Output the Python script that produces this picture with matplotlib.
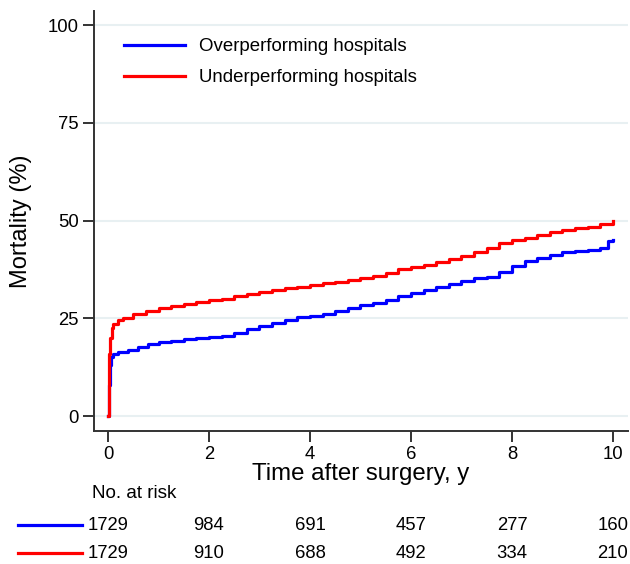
import matplotlib
matplotlib.use("Agg")
import matplotlib.pyplot as plt
from matplotlib.lines import Line2D
from matplotlib.transforms import blended_transform_factory

plt.rcParams['font.family'] = ['Liberation Sans', 'DejaVu Sans']

# Cumulative mortality (%) over years after surgery
t_over = [0, 0.01, 0.03, 0.06, 0.1, 0.2, 0.4, 0.6, 0.8, 1.0, 1.25, 1.5, 1.75, 2.0, 2.25,
          2.5, 2.75, 3.0, 3.25, 3.5, 3.75, 4.0, 4.25, 4.5, 4.75, 5.0, 5.25, 5.5, 5.75,
          6.0, 6.25, 6.5, 6.75, 7.0, 7.25, 7.5, 7.75, 8.0, 8.25, 8.5, 8.75, 9.0, 9.25,
          9.5, 9.75, 9.9, 10.0]
m_over = [0, 8, 13, 15, 15.8, 16.3, 17.0, 17.8, 18.5, 18.9, 19.3, 19.6, 19.9, 20.3, 20.6,
          21.3, 22.2, 23.0, 23.8, 24.6, 25.3, 25.7, 26.2, 27.0, 27.6, 28.3, 28.9, 29.8, 30.8,
          31.5, 32.3, 33.0, 33.8, 34.5, 35.2, 35.6, 36.8, 38.5, 39.6, 40.4, 41.3, 41.9, 42.2,
          42.4, 43.0, 44.8, 45.0]

t_under = [0, 0.01, 0.02, 0.04, 0.07, 0.1, 0.2, 0.3, 0.5, 0.75, 1.0, 1.25, 1.5, 1.75, 2.0,
           2.25, 2.5, 2.75, 3.0, 3.25, 3.5, 3.75, 4.0, 4.25, 4.5, 4.75, 5.0, 5.25, 5.5, 5.75,
           6.0, 6.25, 6.5, 6.75, 7.0, 7.25, 7.5, 7.75, 8.0, 8.25, 8.5, 8.75, 9.0, 9.25, 9.5,
           9.75, 10.0]
m_under = [0, 10, 16, 20, 22.5, 23.6, 24.6, 25.2, 26.0, 26.8, 27.6, 28.2, 28.7, 29.2, 29.6,
           30.0, 30.6, 31.2, 31.8, 32.3, 32.8, 33.1, 33.6, 34.0, 34.4, 34.8, 35.3, 35.9, 36.6, 37.6,
           38.2, 38.7, 39.3, 40.2, 41.0, 42.0, 43.0, 44.2, 45.0, 45.6, 46.3, 47.1, 47.7, 48.0, 48.4,
           49.2, 49.9]

risk_times = [0, 2, 4, 6, 8, 10]
risk_over = [1729, 984, 691, 457, 277, 160]
risk_under = [1729, 910, 688, 492, 334, 210]

labels = ["Overperforming hospitals", "Underperforming hospitals"]
colors = ["#0000ff", "#ff0000"]

fig = plt.figure(figsize=(6.3, 5.64), dpi=100)
ax = fig.add_axes([0.149, 0.2358, 0.848, 0.7447])

ax.plot(t_over, m_over, drawstyle="steps-post", color=colors[0], lw=2.3, label=labels[0])
ax.plot(t_under, m_under, drawstyle="steps-post", color=colors[1], lw=2.3, label=labels[1])

ax.set_xlim(-0.28, 10.3)
ax.set_ylim(-3.8, 103.6)
ax.set_yticks([0, 25, 50, 75, 100])
ax.set_xticks([0, 2, 4, 6, 8, 10])
ax.yaxis.grid(True, color="#e8f0f2", lw=1.5)
ax.set_axisbelow(True)

for s in ["top", "right"]:
    ax.spines[s].set_visible(False)
for s in ["left", "bottom"]:
    ax.spines[s].set_color("#333333")
    ax.spines[s].set_linewidth(1.4)
ax.tick_params(axis="both", direction="out", length=8, width=1.4, color="#333333",
               labelsize=13.3, pad=3)

ax.set_xlabel("Time after surgery, y", fontsize=17.3, labelpad=0)
ax.set_ylabel("Mortality (%)", fontsize=17, labelpad=11)

ax.legend(loc="upper left", frameon=False, fontsize=13.4, handlelength=3.3,
          handletextpad=0.75, labelspacing=0.75, bbox_to_anchor=(0.025, 0.975))

# Numbers at risk table below the axis
fig.text(92 / 630, 1 - 494 / 564, "No. at risk", fontsize=13.6, va="center", ha="left")
tr = blended_transform_factory(ax.transData, fig.transFigure)
row_y = [1 - 525 / 564, 1 - 553 / 564]
for y, vals, c in zip(row_y, [risk_over, risk_under], colors):
    fig.add_artist(Line2D([18 / 630, 82 / 630], [y, y], color=c, lw=2.3,
                          transform=fig.transFigure))
    for tx, v in zip(risk_times, vals):
        fig.text(tx, y, str(v), transform=tr, fontsize=13.3, ha="center", va="center")

fig.savefig("out.png", dpi=100)
